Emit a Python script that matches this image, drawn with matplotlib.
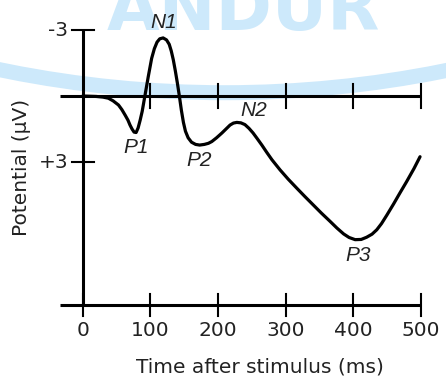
import numpy as np
import matplotlib
matplotlib.use("Agg")
import matplotlib.pyplot as plt
from matplotlib.patches import Arc

# ERP waveform (time in ms, potential in uV, negative up)
time_ms = [0, 20, 30, 38, 45, 53, 58, 63, 67, 70, 73, 76, 79, 82, 85, 88, 92,
           97, 102, 106, 110, 114, 119, 124, 128, 131, 134, 137, 140, 143, 146,
           149, 152, 156, 161, 167, 173, 180, 186, 191, 198, 206, 212, 218,
           223, 228, 234, 240, 246, 252, 258, 265, 272, 280, 292, 304, 317,
           329, 341, 353, 366, 376, 386, 394, 403, 412, 420, 428, 435, 442,
           450, 460, 469, 479, 490, 499]
potential = [0, 0.02, 0.05, 0.1, 0.22, 0.41, 0.62, 0.88, 1.1, 1.32, 1.5, 1.64,
             1.66, 1.45, 1.1, 0.7, 0, -0.88, -1.71, -2.15, -2.45, -2.6, -2.64,
             -2.55, -2.35, -2.05, -1.65, -1.15, -0.6, 0, 0.65, 1.2, 1.6, 1.9,
             2.1, 2.2, 2.23, 2.2, 2.15, 2.07, 1.9, 1.68, 1.5, 1.32, 1.23, 1.2,
             1.22, 1.3, 1.47, 1.68, 1.93, 2.23, 2.55, 2.9, 3.36, 3.78, 4.2,
             4.58, 4.95, 5.32, 5.7, 6.0, 6.27, 6.43, 6.53, 6.52, 6.42, 6.28,
             6.08, 5.8, 5.41, 4.9, 4.42, 3.9, 3.3, 2.76]

peak_names = ["P1", "N1", "P2", "N2", "P3"]
peak_label_t = [79, 120, 172, 253, 407]
peak_label_v = [2.32, -3.36, 2.95, 0.68, 7.23]

x_ticks = [0, 100, 200, 300, 400, 500]
y_ticks = [-3, 3]
y_tick_labels = ["-3", "+3"]

x_start = -34
x_end = 500
y_bottom = 9.5

fig = plt.figure(figsize=(4.46, 3.82), dpi=100)
ax = fig.add_axes([0, 0, 1, 1])
ax.set_xlim(-122.3, 537.4)
ax.set_ylim(13.0, -4.364)
ax.axis("off")

# faint watermark behind the chart
wm = "#cde9fb"
ax.add_patch(Arc((210.5, -50.9), 3302, 101.5, color=wm, lw=10.8, zorder=0))
ax.text(0.545, 1 - 30 / 382, "ANDUR", color=wm, fontsize=49, fontweight="bold",
        ha="center", va="baseline", zorder=0, transform=ax.transAxes)

axis_kw = dict(color="black", lw=2.2, solid_capstyle="butt", zorder=2)
tick_kw = dict(color="black", lw=1.5, zorder=2)

# axis lines
ax.plot([x_start, x_end], [0, 0], **axis_kw)
ax.plot([x_start, x_end], [y_bottom, y_bottom], **axis_kw)
ax.plot([0, 0], [y_ticks[0], y_bottom], **axis_kw)

# ticks crossing the lines
for t in x_ticks:
    ax.plot([t, t], [y_bottom - 0.5, y_bottom + 0.5], **tick_kw)
    if t > 0:
        ax.plot([t, t], [-0.55, 0.55], **tick_kw)
    ax.text(t, 10.64, str(t), ha="center", va="center", fontsize=14.5,
            color="#222222")
for v, lab in zip(y_ticks, y_tick_labels):
    ax.plot([-16.3, 16.3], [v, v], **tick_kw)
    ax.text(-21, v, lab, ha="right", va="center", fontsize=14.5, color="#222222")

# waveform
ax.plot(time_ms, potential, color="black", lw=2.3, solid_joinstyle="round",
        solid_capstyle="round", zorder=3)

for name, t, v in zip(peak_names, peak_label_t, peak_label_v):
    ax.text(t, v, name, ha="center", va="center", fontsize=15, style="italic",
            family="Liberation Sans", color="#222222", zorder=4)

ax.text(262.7, 12.3, "Time after stimulus (ms)", ha="center", va="center",
        fontsize=14.5, color="#222222")
ax.text(-89.8, 3.23, "Potential (\u00b5V)", ha="center", va="center",
        rotation=90, fontsize=14.5, color="#222222")

fig.savefig("out.png", dpi=100)
